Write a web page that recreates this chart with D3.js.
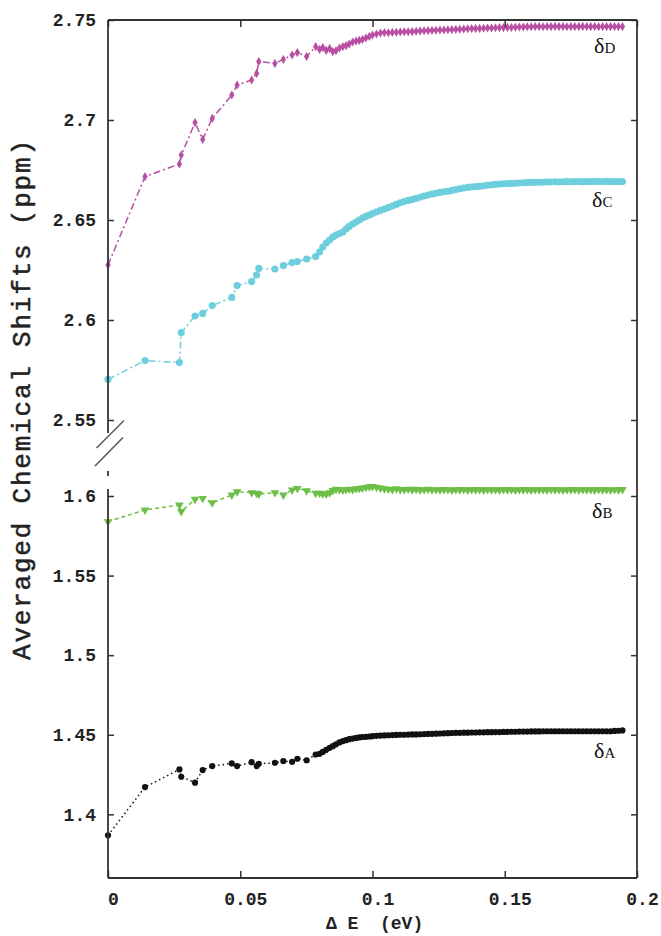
<!DOCTYPE html>
<html><head><meta charset="utf-8">
<script src="https://cdn.jsdelivr.net/npm/d3@7"></script>
<style>body{margin:0;background:#fff} svg{display:block}</style>
</head><body>
<svg id="c" width="661" height="936"></svg>
<script>
// ---------- data ----------
const xTicks = [0, 0.05, 0.1, 0.15, 0.2];
const yTicksTop = [2.55, 2.6, 2.65, 2.7, 2.75];
const yTicksBot = [1.4, 1.45, 1.5, 1.55, 1.6];
const seriesLabels = ["D", "C", "B", "A"];

const deltaE = [
 0, 0.014, 0.027, 0.0277, 0.0329, 0.0358, 0.0394, 0.0468, 0.0488, 0.0543, 0.0562, 0.0570, 0.0631, 0.0663, 0.0696, 0.0716, 0.0751, 0.0785,
 0.0800, 0.0812, 0.0825, 0.0838, 0.0850, 0.0862, 0.0875, 0.0888, 0.0900, 0.0912, 0.0925, 0.0938, 0.0950, 0.0962, 0.0975, 0.0988,
 0.1000, 0.1015, 0.1030, 0.1045, 0.1060, 0.1075, 0.1090, 0.1105, 0.1120, 0.1135, 0.1150, 0.1165, 0.1180, 0.1195,
 0.1210, 0.1225, 0.1240, 0.1255, 0.1270, 0.1285, 0.1300, 0.1315, 0.1330, 0.1345, 0.1360, 0.1375, 0.1390, 0.1405,
 0.1420, 0.1435, 0.1450, 0.1465, 0.1480, 0.1495, 0.1510, 0.1525, 0.1540, 0.1555, 0.1570, 0.1585, 0.1600, 0.1615,
 0.1630, 0.1645, 0.1660, 0.1675, 0.1690, 0.1705, 0.1720, 0.1735, 0.1750, 0.1765, 0.1780, 0.1795, 0.1810, 0.1825,
 0.1840, 0.1855, 0.1870, 0.1885, 0.1900, 0.1915, 0.1930, 0.1945
];

const shiftD = [
 2.6275, 2.6717, 2.6780, 2.6825, 2.6987, 2.6903, 2.7008, 2.7125, 2.7175, 2.7200, 2.7233, 2.7292, 2.7283, 2.7303, 2.7325, 2.7337, 2.7317, 2.7367,
 2.7353, 2.7362, 2.7348, 2.7358, 2.7342, 2.7346, 2.7360, 2.7367, 2.7372, 2.7380, 2.7390, 2.7395, 2.7398, 2.7403, 2.7410, 2.7418,
 2.7425, 2.7430, 2.7435, 2.7437, 2.7436, 2.7438, 2.7439, 2.7440, 2.7441, 2.7441, 2.7442, 2.7444, 2.7445, 2.7446,
 2.7447, 2.7448, 2.7449, 2.7450, 2.7450, 2.7451, 2.7452, 2.7453, 2.7454, 2.7455, 2.7456, 2.7457, 2.7457, 2.7458,
 2.7459, 2.7460, 2.7460, 2.7461, 2.7462, 2.7462, 2.7463, 2.7463, 2.7464, 2.7465, 2.7465, 2.7466, 2.7466, 2.7467,
 2.7467, 2.7466, 2.7467, 2.7467, 2.7468, 2.7467, 2.7467, 2.7466, 2.7467, 2.7467, 2.7467, 2.7468, 2.7467, 2.7467,
 2.7467, 2.7466, 2.7467, 2.7467, 2.7467, 2.7467, 2.7467, 2.7467
];

const shiftC = [
 2.5703, 2.5797, 2.5787, 2.5937, 2.6020, 2.6033, 2.6072, 2.6113, 2.6172, 2.6192, 2.6225, 2.6258, 2.6255, 2.6272, 2.6287, 2.6292, 2.6305, 2.6317,
 2.6340, 2.6365, 2.6385, 2.6400, 2.6415, 2.6425, 2.6432, 2.6440, 2.6455, 2.6468, 2.6480, 2.6490, 2.6500, 2.6510, 2.6518, 2.6525,
 2.6532, 2.6540, 2.6548, 2.6555, 2.6562, 2.6570, 2.6578, 2.6586, 2.6592, 2.6598, 2.6602, 2.6608, 2.6614, 2.6620,
 2.6625, 2.6630, 2.6634, 2.6638, 2.6641, 2.6644, 2.6648, 2.6652, 2.6656, 2.6660, 2.6663, 2.6665, 2.6667, 2.6668,
 2.6671, 2.6674, 2.6676, 2.6678, 2.6680, 2.6681, 2.6682, 2.6683, 2.6684, 2.6685, 2.6686, 2.6687, 2.6688, 2.6688,
 2.6689, 2.6689, 2.6690, 2.6690, 2.6691, 2.6690, 2.6691, 2.6692, 2.6691, 2.6692, 2.6692, 2.6691, 2.6692, 2.6692,
 2.6693, 2.6692, 2.6692, 2.6693, 2.6692, 2.6692, 2.6692, 2.6692
];

const shiftB = [
 1.5839, 1.5912, 1.5944, 1.5902, 1.5979, 1.5985, 1.5958, 1.6006, 1.6027, 1.6021, 1.6017, 1.6012, 1.6021, 1.6006, 1.6038, 1.6048, 1.6033, 1.6017,
 1.6018, 1.6014, 1.6012, 1.6020, 1.6035, 1.6042, 1.6040, 1.6038, 1.6040, 1.6043, 1.6040, 1.6045, 1.6048, 1.6050, 1.6054, 1.6058,
 1.6060, 1.6055, 1.6050, 1.6046, 1.6043, 1.6040, 1.6045, 1.6041, 1.6040, 1.6043, 1.6039, 1.6042, 1.6038, 1.6040,
 1.6042, 1.6039, 1.6040, 1.6038, 1.6041, 1.6040, 1.6038, 1.6040, 1.6039, 1.6041, 1.6038, 1.6040, 1.6039, 1.6041,
 1.6038, 1.6040, 1.6039, 1.6040, 1.6038, 1.6041, 1.6039, 1.6040, 1.6038, 1.6040, 1.6039, 1.6041, 1.6038, 1.6040,
 1.6039, 1.6040, 1.6038, 1.6041, 1.6039, 1.6040, 1.6038, 1.6040, 1.6039, 1.6041, 1.6038, 1.6040, 1.6039, 1.6040,
 1.6038, 1.6041, 1.6039, 1.6040, 1.6038, 1.6040, 1.6039, 1.6041
];

const shiftA = [
 1.3868, 1.4171, 1.4282, 1.4236, 1.4199, 1.4278, 1.4303, 1.4320, 1.4303, 1.4328, 1.4303, 1.4318, 1.4324, 1.4334, 1.4330, 1.4349, 1.4339, 1.4376,
 1.4380, 1.4392, 1.4405, 1.4418, 1.4428, 1.4440, 1.4452, 1.4460, 1.4466, 1.4472, 1.4476, 1.4480, 1.4483, 1.4486, 1.4487, 1.4489,
 1.4491, 1.4493, 1.4495, 1.4496, 1.4497, 1.4498, 1.4499, 1.4500, 1.4500, 1.4501, 1.4502, 1.4502, 1.4503, 1.4504,
 1.4505, 1.4506, 1.4507, 1.4508, 1.4509, 1.4510, 1.4511, 1.4512, 1.4512, 1.4513, 1.4513, 1.4514, 1.4514, 1.4515,
 1.4515, 1.4516, 1.4516, 1.4517, 1.4517, 1.4518, 1.4518, 1.4519, 1.4519, 1.4520, 1.4520, 1.4520, 1.4521, 1.4521,
 1.4521, 1.4522, 1.4522, 1.4522, 1.4522, 1.4522, 1.4522, 1.4522, 1.4522, 1.4522, 1.4522, 1.4522, 1.4522, 1.4522,
 1.4522, 1.4522, 1.4522, 1.4522, 1.4522, 1.4524, 1.4525, 1.4527
];

// ---------- layout ----------
const L = 108, R = 637, T = 20, B = 878;
const svg = d3.select("#c");
const x = d3.scaleLinear().domain([0, 0.2]).range([L, R]);
const yTop = d3.scaleLinear().domain([2.55, 2.75]).range([420, T]);
const yBot = d3.scaleLinear().domain([1.36, 1.6]).range([B, 496]);
const axisColor = "#333";
const tickFont = "'Liberation Mono', 'Courier New', monospace";

const series = [
  {name: seriesLabels[0], vals: shiftD, y: yTop, color: "#b94fa2", dash: "7,3,2,3", sym: d3.symbolDiamond, size: 24, rot: 0, lab: [594, 53]},
  {name: seriesLabels[1], vals: shiftC, y: yTop, color: "#6dcedd", dash: "7,3,2,3", sym: d3.symbolCircle, size: 40, rot: 0, lab: [592, 207]},
  {name: seriesLabels[2], vals: shiftB, y: yBot, color: "#6dbf47", dash: "4,3", sym: d3.symbolTriangle, size: 32, rot: 180, lab: [592, 518]},
  {name: seriesLabels[3], vals: shiftA, y: yBot, color: "#111111", dash: "1.5,3", sym: d3.symbolCircle, size: 30, rot: 0, lab: [594, 758]}
];

// ---------- series ----------
series.forEach(s => {
  const pts = deltaE.map((d, i) => [d, s.vals[i]]);
  const line = d3.line().x(d => x(d[0])).y(d => s.y(d[1]));
  svg.append("path").datum(pts)
    .attr("d", line).attr("fill", "none")
    .attr("stroke", s.color).attr("stroke-width", 1.5)
    .attr("stroke-dasharray", s.dash);
  svg.append("g").selectAll("path").data(pts).join("path")
    .attr("d", d3.symbol().type(s.sym).size(s.size))
    .attr("transform", d => `translate(${x(d[0])},${s.y(d[1])}) rotate(${s.rot})`)
    .attr("fill", s.color);
  const t = svg.append("text").attr("x", s.lab[0]).attr("y", s.lab[1])
    .attr("font-family", "'Liberation Serif', 'Times New Roman', serif")
    .attr("fill", "#111");
  t.append("tspan").attr("font-size", 22).text("δ");
  t.append("tspan").attr("font-size", 15).text(s.name);
});

// ---------- axes ----------
function styleAxis(g) {
  g.select(".domain").remove();
  g.selectAll(".tick line").attr("stroke", axisColor).attr("stroke-width", 1.5);
  g.selectAll(".tick text").attr("font-family", tickFont).attr("font-weight", "bold")
    .attr("font-size", 18).attr("fill", "#222");
}
svg.append("g").attr("transform", `translate(${L},0)`)
  .call(d3.axisLeft(yTop).tickValues(yTicksTop).tickSize(-6).tickPadding(12).tickFormat(d => String(d)))
  .call(styleAxis);
svg.append("g").attr("transform", `translate(${L},0)`)
  .call(d3.axisLeft(yBot).tickValues(yTicksBot).tickSize(-6).tickPadding(12).tickFormat(d => String(d)))
  .call(styleAxis);
svg.append("g").attr("transform", `translate(${R},0)`)
  .call(d3.axisRight(yTop).tickValues(yTicksTop).tickSize(-6).tickFormat(""))
  .call(styleAxis);
svg.append("g").attr("transform", `translate(${R},0)`)
  .call(d3.axisRight(yBot).tickValues(yTicksBot).tickSize(-6).tickFormat(""))
  .call(styleAxis);
const gx = svg.append("g").attr("transform", `translate(0,${B})`)
  .call(d3.axisBottom(x).tickValues(xTicks).tickSize(-7).tickPadding(14).tickFormat(d => String(d)))
  .call(styleAxis);
gx.selectAll(".tick text").attr("dx", 5);
svg.append("g").attr("transform", `translate(0,${T})`)
  .call(d3.axisTop(x).tickValues(xTicks).tickSize(-7).tickFormat(""))
  .call(styleAxis);

// frame with broken left axis
const fr = svg.append("g").attr("stroke", axisColor).attr("stroke-width", 1.8).attr("fill", "none");
fr.append("line").attr("x1", L).attr("x2", R).attr("y1", T).attr("y2", T);
fr.append("line").attr("x1", L).attr("x2", R).attr("y1", B).attr("y2", B);
fr.append("line").attr("x1", R).attr("x2", R).attr("y1", T).attr("y2", B);
fr.append("line").attr("x1", L).attr("x2", L).attr("y1", T).attr("y2", 433);
fr.append("line").attr("x1", L).attr("x2", L).attr("y1", 471).attr("y2", 476);
fr.append("line").attr("x1", L).attr("x2", L).attr("y1", 489).attr("y2", B);
const br = svg.append("g").attr("stroke", "#555").attr("stroke-width", 1.5);
br.append("line").attr("x1", 96.5).attr("y1", 448).attr("x2", 124).attr("y2", 420.5);
br.append("line").attr("x1", 95).attr("y1", 466).attr("x2", 123).attr("y2", 437.5);

// axis titles
svg.append("text").attr("x", 326).attr("y", 929)
  .attr("font-family", tickFont).attr("font-weight", "bold").attr("font-size", 18)
  .attr("fill", "#222").attr("xml:space", "preserve").style("white-space", "pre")
  .text("Δ E  (eV)");
svg.append("text").attr("transform", "translate(30,400) rotate(-90)")
  .attr("text-anchor", "middle")
  .attr("font-family", tickFont).attr("font-size", 26)
  .attr("textLength", 520).attr("lengthAdjust", "spacing")
  .attr("stroke", "#222").attr("stroke-width", 0.5)
  .attr("fill", "#222")
  .text("Averaged Chemical Shifts (ppm)");
</script>
</body></html>
